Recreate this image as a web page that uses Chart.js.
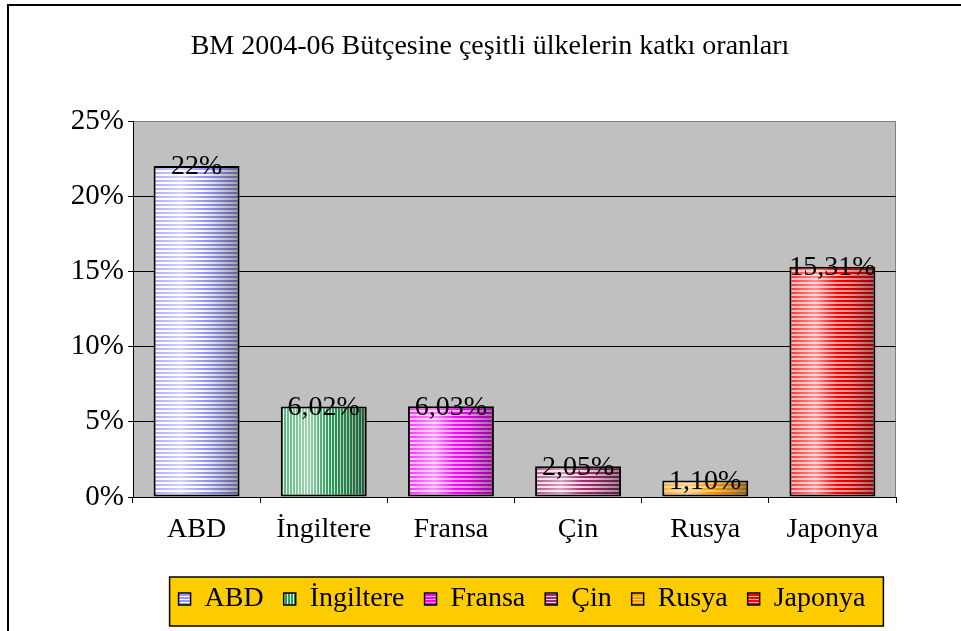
<!DOCTYPE html>
<html>
<head>
<meta charset="utf-8">
<script src="https://cdn.jsdelivr.net/npm/chart.js@4.4.1/dist/chart.umd.min.js"></script>
<style>
  html, body { margin: 0; padding: 0; background: #fff; }
  #wrap { width: 961px; height: 631px; }
</style>
</head>
<body>
<div id="wrap"><canvas id="budget"></canvas></div>
<script>
var chartTitle = "BM 2004-06 Bütçesine çeşitli ülkelerin katkı oranları";
var countries = ["ABD", "İngiltere", "Fransa", "Çin", "Rusya", "Japonya"];
var shares = [22, 6.02, 6.03, 2.05, 1.10, 15.31];
var shareLabels = ["22%", "6,02%", "6,03%", "2,05%", "1,10%", "15,31%"];
var yTicks = [0, 5, 10, 15, 20, 25];

// bar looks
var baseColors = ["#9999FF", "#339966", "#FF00FF", "#993366", "#FF9900", "#FF0000"];
var stripeColors = ["#FFFFFF", "#CCFFCC", "#FFAAFF", "#FFCCEE", "#FFCC66", "#FFAAAA"];
var verticalStripes = [false, true, false, false, false, false];
var barShare = 0.676;
var serif = "'Liberation Serif', 'Times New Roman', serif";

function hexToRgb(h) {
    var n = parseInt(h.slice(1), 16);
    return [n >> 16 & 255, n >> 8 & 255, n & 255];
}

function shade(rgb, f) {
    return "rgb(" + rgb.map(function (c) {
        return Math.round(f >= 0 ? c + (255 - c) * f : c * (1 + f));
    }).join(",") + ")";
}

// light a bit left of centre, darker to the right
function shadeAt(t) {
    if (t < 0.3) return 0.2 + 0.35 * (t / 0.3);
    if (t < 0.55) return 0.55 - 0.55 * ((t - 0.3) / 0.25);
    return -0.4 * ((t - 0.55) / 0.45);
}

function barPattern(ctx, i, w, x0) {
    var W = Math.max(1, Math.round(w));
    var tile = document.createElement("canvas");
    var base = hexToRgb(baseColors[i]), stripe = hexToRgb(stripeColors[i]);
    var tc;
    if (verticalStripes[i]) {
        tile.width = W; tile.height = 1;
        tc = tile.getContext("2d");
        for (var x = 0; x < W; x++) {
            var f = shadeAt(x / W);
            tc.fillStyle = shade(x % 3 == 2 ? stripe : base, f);
            tc.fillRect(x, 0, 1, 1);
        }
    } else {
        tile.width = W; tile.height = 4;
        tc = tile.getContext("2d");
        for (var x = 0; x < W; x++) {
            var f = shadeAt(x / W);
            tc.fillStyle = shade(base, f);
            tc.fillRect(x, 0, 1, 2);
            tc.fillStyle = shade(stripe, f);
            tc.fillRect(x, 2, 1, 2);
        }
    }
    var p = ctx.createPattern(tile, "repeat");
    p.setTransform(new DOMMatrix([1, 0, 0, 1, Math.round(x0), 0]));
    return p;
}

function legendPattern(ctx, i) {
    var tile = document.createElement("canvas");
    var tc = tile.getContext("2d");
    tile.width = 3; tile.height = 3;
    tc.fillStyle = stripeColors[i];
    tc.fillRect(0, 0, 3, 3);
    tc.fillStyle = baseColors[i];
    if (verticalStripes[i]) tc.fillRect(0, 0, 2, 3);
    else tc.fillRect(0, 0, 3, 2);
    return ctx.createPattern(tile, "repeat");
}

var frameAndPlot = {
    id: "frameAndPlot",
    afterLayout: function (chart) {
        // legend sits a bit right of the canvas centre in the original
        var lg = chart.legend;
        var d = 522 - (lg.left + lg.right) / 2;
        lg.left += d;
        lg.right += d;
    },
    beforeDraw: function (chart) {
        var c = chart.ctx, a = chart.chartArea;
        c.save();
        c.fillStyle = "#fff";
        c.fillRect(0, 0, chart.width, chart.height);
        c.strokeStyle = "#000";
        c.lineWidth = 2;
        c.beginPath();
        c.moveTo(8, chart.height);
        c.lineTo(8, 5);
        c.lineTo(chart.width, 5);
        c.stroke();

        c.fillStyle = "#C0C0C0";
        c.fillRect(a.left, a.top, a.right - a.left, a.bottom - a.top);
        c.strokeStyle = "#808080";
        c.lineWidth = 1;
        c.beginPath();
        c.moveTo(a.left, a.top + 0.5);
        c.lineTo(a.right - 0.5, a.top + 0.5);
        c.lineTo(a.right - 0.5, a.bottom);
        c.stroke();

        c.fillStyle = "#000";
        c.font = "28px " + serif;
        c.textAlign = "center";
        c.textBaseline = "middle";
        c.fillText(chartTitle, 490, 47);

        // yellow legend frame
        var hb = chart.legend.legendHitBoxes;
        if (hb && hb.length) {
            var first = hb[0], last = hb[hb.length - 1];
            var left = first.left - 9, right = last.left + last.width + 18;
            var mid = first.top + first.height / 2;
            c.fillStyle = "#FFCC00";
            c.fillRect(left, mid - 22, right - left, 49);
            c.strokeStyle = "#000";
            c.lineWidth = 1.5;
            c.strokeRect(left, mid - 22, right - left, 49);
        }
        c.restore();
    },
    afterDatasetsDraw: function (chart) {
        var c = chart.ctx;
        var bars = chart.getDatasetMeta(0).data;
        c.save();
        c.fillStyle = "#000";
        c.font = "28px " + serif;
        c.textAlign = "center";
        c.textBaseline = "middle";
        bars.forEach(function (bar, i) {
            c.fillText(shareLabels[i], bar.x, bar.y + 1);
        });
        c.restore();
    }
};

new Chart(document.getElementById("budget"), {
    type: "bar",
    data: {
        labels: countries,
        datasets: [{
            label: "Katkı",
            data: shares,
            borderColor: "#000",
            borderWidth: 2,
            borderSkipped: false,
            categoryPercentage: 1,
            barPercentage: barShare,
            backgroundColor: function (ctx) {
                var i = ctx.dataIndex, chart = ctx.chart;
                if (i === undefined) return baseColors[0];
                var xs = chart.scales.x;
                if (!xs || !chart.chartArea) return baseColors[i];
                var cat = (chart.chartArea.right - chart.chartArea.left) / countries.length;
                var w = cat * barShare;
                return barPattern(chart.ctx, i, w, xs.getPixelForValue(i) - w / 2);
            }
        }]
    },
    options: {
        responsive: true,
        maintainAspectRatio: false,
        animation: false,
        layout: { padding: { left: 20, right: 65, top: 121, bottom: 8 } },
        plugins: {
            title: { display: false },
            tooltip: { enabled: false },
            legend: {
                position: "bottom",
                align: "center",
                labels: {
                    boxWidth: 12,
                    boxHeight: 12,
                    padding: 20,
                    color: "#000",
                    font: { family: serif, size: 28 },
                    generateLabels: function (chart) {
                        return countries.map(function (c, i) {
                            return {
                                text: c,
                                fillStyle: legendPattern(chart.ctx, i),
                                strokeStyle: "#000",
                                lineWidth: 1.5,
                                hidden: false,
                                index: i,
                                fontColor: "#000"
                            };
                        });
                    }
                }
            }
        },
        scales: {
            x: {
                grid: { offset: true, drawOnChartArea: false, tickLength: 6, tickColor: "#000", color: "#000" },
                border: { color: "#000", width: 1 },
                ticks: { color: "#000", font: { family: serif, size: 28 }, padding: 10 },
                afterFit: function (s) { s.height = 68; }
            },
            y: {
                min: 0,
                max: 25,
                afterBuildTicks: function (s) {
                    s.ticks = yTicks.map(function (v) { return { value: v }; });
                },
                ticks: {
                    color: "#000",
                    font: { family: serif, size: 29 },
                    padding: 4,
                    callback: function (v) { return v + "%"; }
                },
                grid: {
                    color: function (c) { return c.tick && c.tick.value === 25 ? "#808080" : "#000"; },
                    tickColor: "#000",
                    tickLength: 5,
                    lineWidth: 1
                },
                border: { color: "#000", width: 1 },
                afterFit: function (s) { s.width = 113; }
            }
        }
    },
    plugins: [frameAndPlot]
});
</script>
</body>
</html>
